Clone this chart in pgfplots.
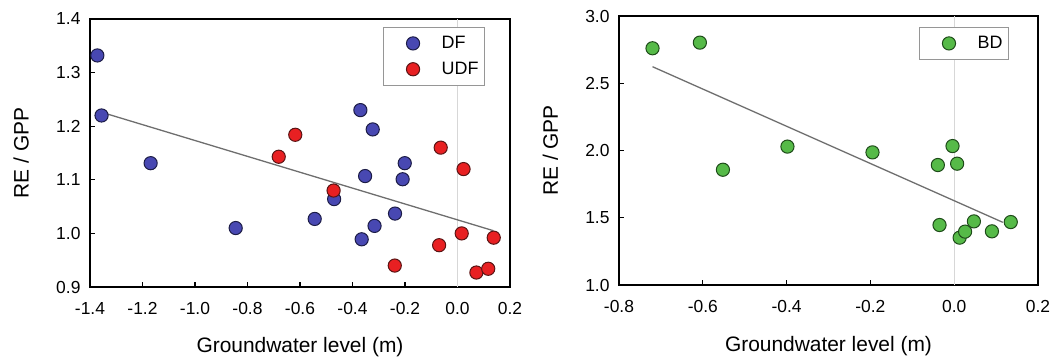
\documentclass[border=0pt]{standalone}
\usepackage{fontspec}
\setmainfont{Liberation Sans}
\usepackage{pgfplots}
\pgfplotsset{compat=1.18}
\definecolor{dfFill}{RGB}{72,72,178}
\definecolor{dfDraw}{RGB}{28,28,70}
\definecolor{udfFill}{RGB}{232,32,34}
\definecolor{udfDraw}{RGB}{90,20,20}
\definecolor{bdFill}{RGB}{86,186,72}
\definecolor{bdDraw}{RGB}{30,75,25}
\definecolor{regLine}{RGB}{110,110,110}
\definecolor{zeroLine}{RGB}{215,215,215}
\definecolor{legBox}{RGB}{150,150,150}
\pgfplotsset{
  myaxis/.style={
    scale only axis,
    anchor=south west,
    axis line style={line width=1.6bp},
    tick align=inside,
    tick pos=left,
    major tick length=5bp,
    every tick/.style={black,line width=1.2bp},
    tick label style={font=\fontsize{17.5}{20}\selectfont},
    xticklabel style={yshift=-12bp},
    yticklabel style={xshift=-6bp},
    /pgf/number format/.cd, fixed, fixed zerofill, precision=1, assume math mode=true,
    /pgfplots/.cd,
    label style={font=\fontsize{21}{24}\selectfont},
    xlabel style={at={(axis description cs:0.5,-0.226)}, anchor=center},
    ylabel style={at={(axis description cs:-0.164,0.5)}, anchor=center},
    clip=false,
    legend cell align=left,
    legend image code/.code={\path (0bp,0bp); \draw[##1] plot coordinates {(23bp,0bp)};},
    legend style={at={(1,1)}, anchor=north east, draw=legBox, line width=1bp,
      font=\fontsize{18}{20}\selectfont,
      nodes={inner sep=0pt},
      inner xsep=6bp, inner ysep=9bp, row sep=12bp,
      /tikz/every odd column/.append style={column sep=22bp}},
  },
  dfm/.style={only marks, mark=*, mark size=6.6bp, mark options={fill=dfFill, draw=dfDraw, line width=1bp}},
  udfm/.style={only marks, mark=*, mark size=6.6bp, mark options={fill=udfFill, draw=udfDraw, line width=1bp}},
  bdm/.style={only marks, mark=*, mark size=6.6bp, mark options={fill=bdFill, draw=bdDraw, line width=1bp}},
}
\begin{document}
\begin{tikzpicture}
\useasboundingbox (0,0) rectangle (1052bp,363bp);
\begin{axis}[myaxis,
  at={(90bp,76bp)}, width=420bp, height=268bp,
  xmin=-1.4, xmax=0.2, ymin=0.9, ymax=1.4,
  xtick={-1.4,-1.2,-1,-0.8,-0.6,-0.4,-0.2,0,0.2},
  ytick={0.9,1,1.1,1.2,1.3,1.4},
  xlabel={Groundwater level (m)}, ylabel={RE / GPP},
  legend style={xshift=-25bp, yshift=-8bp},
]
\addplot[zeroLine, line width=1bp, forget plot] coordinates {(0,0.9) (0,1.4)};
\addplot[regLine, line width=1.3bp, forget plot] coordinates {(-1.356,1.226) (0.137,1.005)};
\addplot[dfm] coordinates {
(-1.372,1.332) (-1.356,1.220) (-1.169,1.131) (-0.845,1.010) (-0.544,1.027)
(-0.470,1.064) (-0.370,1.230) (-0.365,0.989) (-0.352,1.107) (-0.323,1.194)
(-0.316,1.014) (-0.238,1.037) (-0.209,1.101) (-0.201,1.131)};
\addlegendentry{DF}
\addplot[udfm] coordinates {
(-0.681,1.143) (-0.618,1.184) (-0.472,1.080) (-0.239,0.940) (-0.070,0.978)
(-0.064,1.160) (0.016,1.000) (0.023,1.120) (0.072,0.927) (0.117,0.934) (0.138,0.992)};
\addlegendentry{UDF}
\end{axis}
\begin{axis}[myaxis,
  at={(619bp,78bp)}, width=419bp, height=269bp,
  xmin=-0.8, xmax=0.2, ymin=1.0, ymax=3.0,
  xtick={-0.8,-0.6,-0.4,-0.2,0,0.2},
  ytick={1,1.5,2,2.5,3},
  xlabel={Groundwater level (m)}, ylabel={RE / GPP},
  legend style={xshift=-29bp, yshift=-11bp},
]
\addplot[zeroLine, line width=1bp, forget plot] coordinates {(0,1.0) (0,3.0)};
\addplot[regLine, line width=1.3bp, forget plot] coordinates {(-0.720,2.623) (0.116,1.466)};
\addplot[bdm] coordinates {
(-0.720,2.760) (-0.607,2.802) (-0.552,1.857) (-0.398,2.029) (-0.195,1.986)
(-0.039,1.892) (-0.035,1.446) (-0.004,2.033) (0.007,1.902) (0.013,1.352)
(0.026,1.397) (0.047,1.473) (0.090,1.399) (0.135,1.468)};
\addlegendentry{BD}
\end{axis}
\end{tikzpicture}
\end{document}
